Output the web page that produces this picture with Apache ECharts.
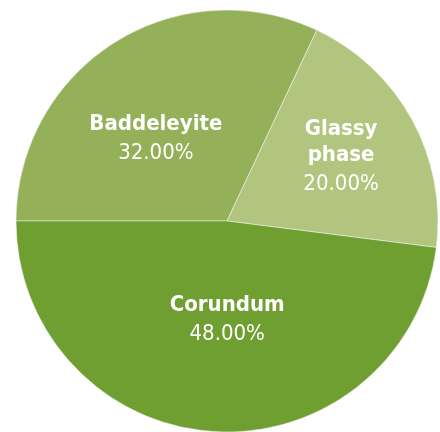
<!DOCTYPE html>
<html>
<head>
<meta charset="utf-8">
<style>
  html, body { margin: 0; padding: 0; background: #fff; }
  #chart { width: 440px; height: 432px; }
</style>
<script src="https://cdn.jsdelivr.net/npm/echarts@6/dist/echarts.min.js"></script>
</head>
<body>
<div id="chart"></div>
<script>
// 数据
var phases = ['Baddeleyite', 'Glassy\nphase', 'Corundum'];
var shares = [32, 20, 48];
var colors = ['#94b058', '#b2c57f', '#6f9e31'];
// 标签微调
var offsets = [[-13, 11], [19, -10], [7, -8]];

(function () {
    var myChart = echarts.init(document.getElementById('chart'));
    var data = phases.map(function (name, i) {
        return {
            name: name,
            value: shares[i],
            itemStyle: { color: colors[i] },
            label: { offset: offsets[i] }
        };
    });
    var font = '"DejaVu Sans Condensed", "Liberation Sans", sans-serif';
    var option = {
        animation: false,
        series: [
            {
                type: 'pie',
                center: [227, 221],
                radius: 211,
                startAngle: 180,
                clockwise: true,
                data: data,
                itemStyle: {
                    borderColor: 'rgba(255,255,255,0.45)',
                    borderWidth: 1
                },
                label: {
                    show: true,
                    position: 'inside',
                    formatter: function (p) {
                        var lines = p.name.split('\n').map(function (s) {
                            return '{n|' + s + '}';
                        });
                        return lines.join('\n') + '\n{v|' + p.value.toFixed(2) + '%}';
                    },
                    rich: {
                        n: {
                            fontFamily: font,
                            fontWeight: 'bold',
                            fontSize: 22,
                            lineHeight: 26,
                            color: '#fff'
                        },
                        v: {
                            fontFamily: font,
                            fontSize: 22,
                            lineHeight: 33,
                            color: '#fff'
                        }
                    }
                },
                labelLine: { show: false }
            }
        ]
    };
    myChart.setOption(option);
})();
</script>
</body>
</html>
